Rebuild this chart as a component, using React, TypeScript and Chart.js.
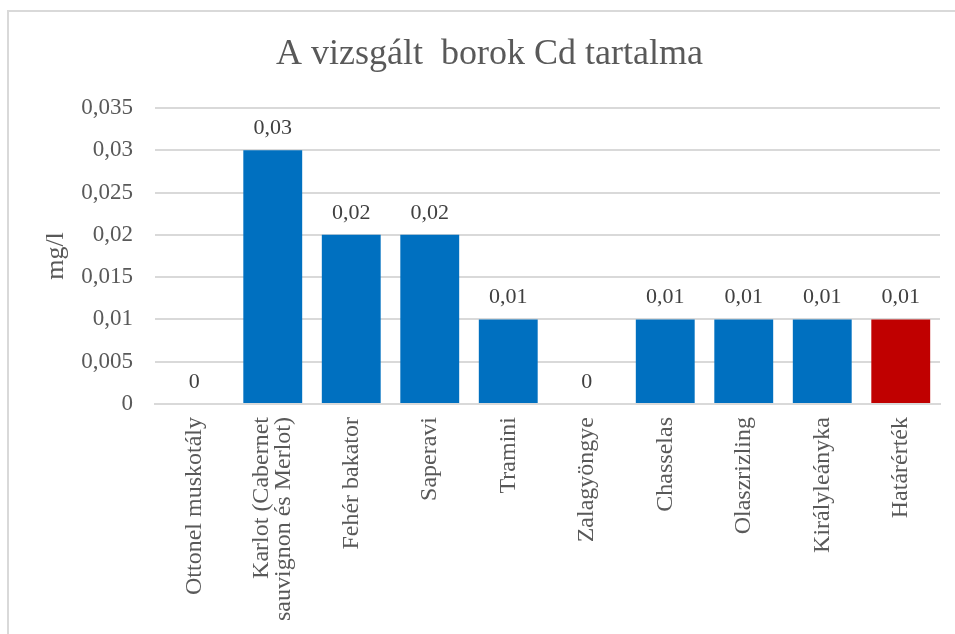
import { useEffect, useRef } from "react";
import { Chart, registerables } from "chart.js";

Chart.register(...registerables);

const chartTitle = "A vizsgált  borok Cd tartalma";
const yAxisTitle = "mg/l";
const categories: (string | string[])[] = [
  "Ottonel muskotály",
  ["Karlot (Cabernet", "sauvignon és Merlot)"],
  "Fehér bakator",
  "Saperavi",
  "Tramini",
  "Zalagyöngye",
  "Chasselas",
  "Olaszrizling",
  "Királyleányka",
  "Határérték",
];
const cdValues = [0, 0.03, 0.02, 0.02, 0.01, 0, 0.01, 0.01, 0.01, 0.01];
const barColors = [
  "#0070C0", "#0070C0", "#0070C0", "#0070C0", "#0070C0",
  "#0070C0", "#0070C0", "#0070C0", "#0070C0", "#C00000",
];
const yTickValues = [0, 0.005, 0.01, 0.015, 0.02, 0.025, 0.03, 0.035];
const yTickLabels = ["0", "0,005", "0,01", "0,015", "0,02", "0,025", "0,03", "0,035"];

const FONT = "'Liberation Serif', 'Times New Roman', serif";
const X_FONT_SIZE = 24;
const X_LINE_HEIGHT = 0.95;

const fmt = (v: number) => String(Number(v.toFixed(4))).replace(".", ",");

const dataLabelPlugin = {
  id: "dataLabels",
  afterDatasetsDraw(chart: any) {
    const { ctx } = chart;
    const meta = chart.getDatasetMeta(0);
    ctx.save();
    ctx.font = `22px ${FONT}`;
    ctx.fillStyle = "#404040";
    ctx.textAlign = "center";
    ctx.textBaseline = "alphabetic";
    meta.data.forEach((el: any, i: number) => {
      ctx.fillText(fmt(cdValues[i]), el.x, el.y - 16);
    });
    ctx.restore();
  },
};

// Centre multi-line category labels on their tick (Excel style)
const centerMultiLinePlugin = {
  id: "centerMultiLine",
  beforeDraw(chart: any) {
    const scale = chart.scales.x;
    if (!scale || !scale.getLabelItems) return;
    const items = scale.getLabelItems(chart.chartArea);
    const lh = X_FONT_SIZE * X_LINE_HEIGHT;
    items.forEach((item: any) => {
      if (Array.isArray(item.label) && item.label.length > 1 && !item._centered) {
        item.options.translation[0] -= ((item.label.length - 1) * lh) / 2;
        item._centered = true;
      }
    });
  },
};

export default function App() {
  const canvasRef = useRef<HTMLCanvasElement | null>(null);

  useEffect(() => {
    if (!canvasRef.current) return;
    const chart = new Chart(canvasRef.current, {
      type: "bar",
      data: {
        labels: categories as any,
        datasets: [
          {
            data: cdValues,
            backgroundColor: barColors,
            borderWidth: 0,
            barPercentage: 0.75,
            categoryPercentage: 1,
          },
        ],
      },
      options: {
        animation: false,
        responsive: false,
        devicePixelRatio: 1,
        layout: { padding: { left: 39, right: 15, top: 0, bottom: 0 } },
        plugins: {
          legend: { display: false },
          tooltip: { enabled: false },
          title: {
            display: true,
            text: chartTitle,
            color: "#595959",
            font: { family: FONT, size: 36, weight: "normal", lineHeight: 1.2 },
            padding: { top: 33.4, bottom: 31.4 },
          },
        },
        scales: {
          x: {
            grid: { display: false, drawTicks: false },
            border: { display: true, color: "#d9d9d9", width: 2 },
            ticks: {
              autoSkip: false,
              maxRotation: 90,
              minRotation: 90,
              padding: 13,
              color: "#595959",
              font: { family: FONT, size: X_FONT_SIZE, lineHeight: X_LINE_HEIGHT },
            },
            afterFit: (scale: any) => {
              scale.height = 230;
            },
          },
          y: {
            min: 0,
            max: 0.035,
            afterBuildTicks: (scale: any) => {
              scale.ticks = yTickValues.map((v) => ({ value: v }));
            },
            grid: { color: "#d9d9d9", lineWidth: 2, drawTicks: false },
            border: { display: false },
            ticks: {
              padding: 22,
              color: "#595959",
              font: { family: FONT, size: 23 },
              callback: (_v: any, i: number) => yTickLabels[i],
            },
            title: {
              display: true,
              text: yAxisTitle,
              color: "#595959",
              font: { family: FONT, size: 26, lineHeight: 1.2 },
              padding: { top: 1.4, bottom: 0 },
            },
            afterFit: (scale: any) => {
              scale.width = 116;
            },
          },
        },
      },
      plugins: [dataLabelPlugin, centerMultiLinePlugin],
    });
    return () => chart.destroy();
  }, []);

  return (
    <div style={{ position: "fixed", left: 0, top: 0, width: 955, height: 634, background: "#fff", overflow: "hidden" }}>
      <div
        style={{
          position: "absolute",
          left: 7,
          top: 10,
          width: 1000,
          height: 700,
          borderTop: "2px solid #d9d9d9",
          borderLeft: "2px solid #d9d9d9",
        }}
      />
      <canvas ref={canvasRef} width={955} height={634} style={{ position: "absolute", left: 0, top: 0 }} />
    </div>
  );
}
